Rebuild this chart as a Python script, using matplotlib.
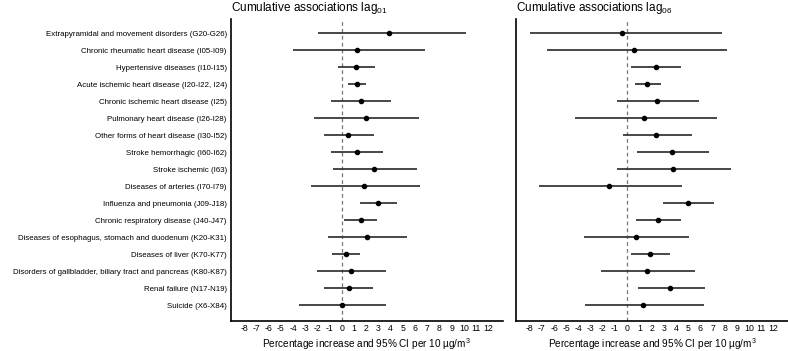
import numpy as np
import matplotlib
matplotlib.use("Agg")
import matplotlib.pyplot as plt

plt.rcParams['font.family'] = ['Liberation Sans', 'DejaVu Sans']
plt.rcParams['mathtext.default'] = 'regular'

categories = [
    "Extrapyramidal and movement disorders (G20-G26)",
    "Chronic rheumatic heart disease (I05-I09)",
    "Hypertensive diseases (I10-I15)",
    "Acute ischemic heart disease (I20-I22, I24)",
    "Chronic ischemic heart disease (I25)",
    "Pulmonary heart disease (I26-I28)",
    "Other forms of heart disease (I30-I52)",
    "Stroke hemorrhagic (I60-I62)",
    "Stroke ischemic (I63)",
    "Diseases of arteries (I70-I79)",
    "Influenza and pneumonia (J09-J18)",
    "Chronic respiratory disease (J40-J47)",
    "Diseases of esophagus, stomach and duodenum (K20-K31)",
    "Diseases of liver (K70-K77)",
    "Disorders of gallbladder, biliary tract and pancreas (K80-K87)",
    "Renal failure (N17-N19)",
    "Suicide (X6-X84)",
]

# lag 0-1
est01 = [3.9, 1.23, 1.17, 1.25, 1.53, 1.97, 0.52, 1.23, 2.65, 1.83, 3.0, 1.53, 2.05, 0.33, 0.74, 0.55, 0.0]
lo01 = [-2.0, -4.05, -0.33, 0.49, -0.88, -2.25, -1.5, -0.88, -0.74, -2.5, 1.5, 0.19, -1.1, -0.82, -2.05, -1.45, -3.5]
hi01 = [10.2, 6.8, 2.7, 2.0, 4.0, 6.3, 2.6, 3.36, 6.15, 6.4, 4.56, 2.87, 5.3, 1.47, 3.63, 2.54, 3.63]

# lag 0-6
est06 = [-0.41, 0.52, 2.32, 1.64, 2.46, 1.37, 2.4, 3.69, 3.74, -1.53, 5.0, 2.51, 0.68, 1.89, 1.61, 3.52, 1.29]
lo06 = [-7.95, -6.58, 0.27, 0.6, -0.82, -4.26, -0.36, 0.79, -0.82, -7.24, 2.9, 0.71, -3.58, 0.27, -2.16, 0.85, -3.5]
hi06 = [7.76, 8.17, 4.45, 2.73, 5.9, 7.38, 5.33, 6.7, 8.52, 4.48, 7.13, 4.43, 5.1, 3.5, 5.55, 6.34, 6.3]

xticks = list(range(-8, 13))
xlabel = "Percentage increase and 95% CI per 10 \u00b5g/m$^3$"

fig = plt.figure(figsize=(7.88, 3.51), dpi=100)
ax1 = fig.add_axes([0.2931, 0.0863, 0.345, 0.8596])
ax2 = fig.add_axes([0.6552, 0.0863, 0.345, 0.8596])

y = np.arange(len(categories))

def draw(ax, est, lo, hi, title, show_labels):
    ax.axvline(0, color='#777777', lw=0.9, ls=(0, (3, 2.5)), zorder=1)
    ax.hlines(y, lo, hi, color='#383838', lw=1.3, zorder=2)
    ax.plot(est, y, 'o', color='black', ms=3.0, zorder=3)
    ax.set_xlim(-9.1, 13.2)
    ax.set_ylim(16.9, -0.84)
    ax.set_xticks(xticks)
    ax.set_xticklabels([str(t) for t in xticks], fontsize=6.3)
    ax.set_yticks(y)
    if show_labels:
        ax.set_yticklabels(categories, fontsize=5.65)
    else:
        ax.set_yticklabels([])
    ax.tick_params(length=0, pad=3)
    ax.tick_params(axis='x', pad=2.5)
    for s in ['top', 'right']:
        ax.spines[s].set_visible(False)
    for s in ['left', 'bottom']:
        ax.spines[s].set_linewidth(1.2)
    ax.set_xlabel(xlabel, fontsize=7.2, labelpad=2)
    ax.set_title(title, fontsize=8.5, loc='left', pad=6)

draw(ax1, est01, lo01, hi01, "Cumulative associations lag$_{01}$", True)
draw(ax2, est06, lo06, hi06, "Cumulative associations lag$_{06}$", False)

fig.savefig("out.png", dpi=100)
